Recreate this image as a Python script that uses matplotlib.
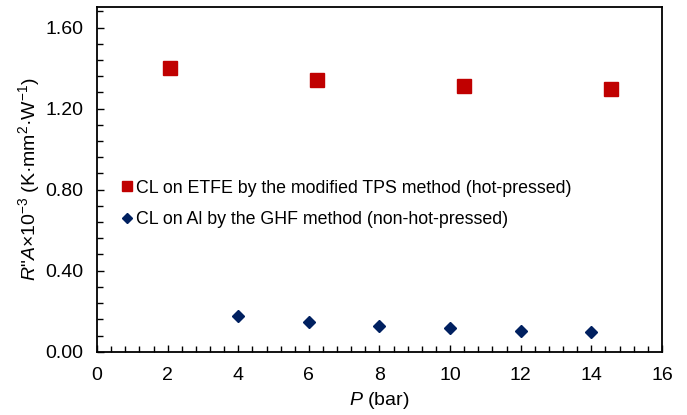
import matplotlib
matplotlib.use("Agg")
import matplotlib.pyplot as plt
from matplotlib.ticker import MultipleLocator, FormatStrFormatter

plt.rcParams["font.family"] = ["Liberation Sans", "DejaVu Sans"]
plt.rcParams["mathtext.fontset"] = "custom"
plt.rcParams["mathtext.rm"] = "Liberation Sans"
plt.rcParams["mathtext.it"] = "Liberation Sans:italic"

# CL on ETFE, modified TPS method (hot-pressed)
tps_p = [2.08, 6.22, 10.39, 14.55]
tps_ra = [1.400, 1.339, 1.312, 1.296]
tps_err = [0.012, 0.012, 0.010, 0.010]

# CL on Al, GHF method (non-hot-pressed)
ghf_p = [4, 6, 8, 10, 12, 14]
ghf_ra = [0.178, 0.146, 0.129, 0.116, 0.104, 0.096]
ghf_err = [0.008, 0.007, 0.006, 0.006, 0.005, 0.005]

labels = ["CL on ETFE by the modified TPS method (hot-pressed)",
          "CL on Al by the GHF method (non-hot-pressed)"]

fig = plt.figure(figsize=(6.87, 4.15), dpi=100)
ax = fig.add_axes([0.1412, 0.1525, 0.8224, 0.83])

tps = ax.errorbar(tps_p, tps_ra, yerr=tps_err, fmt="s", color="#C00000", ecolor="#5a1010",
                  markersize=10, elinewidth=1, capsize=0)
ghf = ax.errorbar(ghf_p, ghf_ra, yerr=ghf_err, fmt="D", color="#002060", ecolor="#002060",
                  markersize=6.5, elinewidth=1, capsize=0)

ax.set_xlim(0, 16)
ax.set_ylim(0, 1.7)
ax.xaxis.set_major_locator(MultipleLocator(2))
ax.xaxis.set_minor_locator(MultipleLocator(0.4))
ax.yaxis.set_major_locator(MultipleLocator(0.4))
ax.yaxis.set_minor_locator(MultipleLocator(0.08))
ax.yaxis.set_major_formatter(FormatStrFormatter("%.2f"))
ax.tick_params(which="both", direction="in", labelsize=14, width=1, color="black")
ax.tick_params(which="major", length=5)
ax.tick_params(which="minor", length=4)
ax.tick_params(axis="x", pad=11)
ax.tick_params(axis="y", pad=10)
for s in ax.spines.values():
    s.set_linewidth(1.3)

ax.set_xlabel("$P$ (bar)", fontsize=14, labelpad=4)
ax.set_ylabel("$R$\"$A$×10$^{-3}$ (K·mm$^{2}$·W$^{-1}$)", fontsize=14, labelpad=2)

ax.legend([tps.lines[0], ghf.lines[0]], labels, loc="upper left",
          bbox_to_anchor=(0.025, 0.52), frameon=False, fontsize=12.8,
          handletextpad=0.0, handlelength=1.0, labelspacing=0.8, borderaxespad=0,
          markerscale=0.75)

fig.savefig("out.png", dpi=100)
